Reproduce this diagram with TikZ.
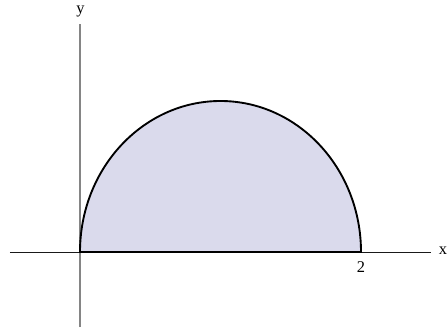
\documentclass[tikz,border=0pt]{standalone}
\usepackage{fontspec}
\setmainfont{Liberation Serif}
\usetikzlibrary{positioning}
\definecolor{regionfill}{HTML}{DADAEC}
\definecolor{axisgray}{HTML}{858585}
\tikzset{
  xaxisline/.style={line width=0.8pt, color=black!90},
  yaxisline/.style={line width=0.9pt, color=axisgray},
  region/.style={fill=regionfill, draw=black, line width=1.6pt},
  axislabel/.style={font=\fontsize{14}{16}\selectfont, inner sep=0pt},
}
\begin{document}
\begin{tikzpicture}[x=0.03cm,y=0.03cm]
  \def\rx{140.5}  % half width of the arch
  \def\ry{151}    % height of the arch
  \useasboundingbox (-80,-78) rectangle (368,252);
  % axes
  \coordinate (xstart) at (-70,0);
  \coordinate (xend) at (351,0);
  \coordinate (ystart) at (0,-75);
  \coordinate (yend) at (0,228);
  \draw[xaxisline] (xstart) -- (xend);
  \draw[yaxisline] (ystart) -- (yend);
  \node[axislabel] (xlab) at (363,1) {x};
  \node[axislabel] (ylab) at (0.5,240) {y};
  % the region under the arch
  \coordinate (orig) at (0,0);
  \coordinate (rend) at (2*\rx,0);
  \draw[region] (orig) arc[start angle=180, end angle=0,
      x radius=\rx, y radius=\ry] -- cycle;
  \node[axislabel, below=8pt of rend] (twolab) {2};
\end{tikzpicture}
\end{document}
